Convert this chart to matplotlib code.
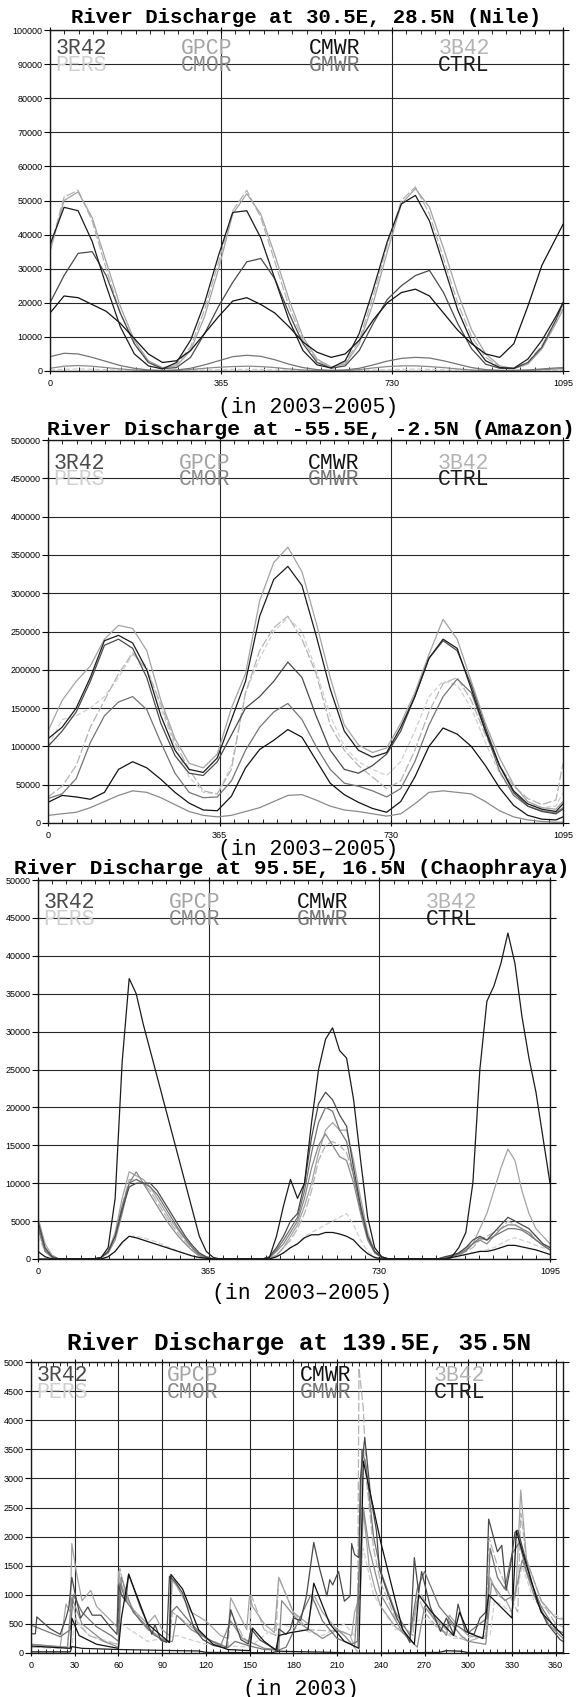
import numpy as np
import matplotlib
matplotlib.use("Agg")
import matplotlib.pyplot as plt
from matplotlib.ticker import MultipleLocator, FixedLocator

W, H = 580, 1697
fig = plt.figure(figsize=(W / 100, H / 100), dpi=100)

# ---- legend / styles -------------------------------------------------------
row1 = ["3R42", "GPCP", "CMWR", "3B42"]
row2 = ["PERS", "CMOR", "GMWR", "CTRL"]
colors = {"3R42": "#4a4a4a", "PERS": "#cfcfcf", "GPCP": "#a3a3a3", "CMOR": "#8a8a8a",
          "CMWR": "#121212", "GMWR": "#747474", "3B42": "#b3b3b3", "CTRL": "#1c1c1c"}
dashes = {"3B42": (7, 2), "PERS": (4, 2)}
draw_order = ["PERS", "3B42", "GPCP", "CMOR", "GMWR", "3R42", "CMWR", "CTRL"]

# ---- panel 1: Nile, 2003-2005 (values in 1000 m3/s) ------------------------
nile_days = list(range(0, 1081, 30)) + [1095]
nile = {
    "CTRL": [37, 48, 47, 38, 25, 13, 5, 1.5, 0.6, 2.5, 9, 20, 34, 46.5, 47, 39, 27, 15, 6, 1.8,
             0.9, 3, 11, 24, 38, 49, 51.5, 44, 31, 18, 8.5, 3, 1, 0.8, 3.5, 9, 16, 20],
    "GPCP": [35, 50, 52.5, 45, 32, 19, 9, 3, 1, 1.5, 6, 16, 30, 46, 52, 46, 34, 21, 10, 3.5,
             1.2, 2, 8, 20, 35, 49, 53.5, 48, 36, 23, 12, 5, 1.5, 0.7, 2, 6.5, 14, 18],
    "3B42": [36, 51, 53, 44, 30, 17, 8, 2.5, 0.8, 2, 7, 18, 32, 47, 53, 45, 32, 19, 9, 3,
             1, 2.5, 9, 22, 37, 50, 54, 46, 33, 20, 10, 4, 1.2, 0.8, 2.5, 7.5, 15, 19],
    "3R42": [20, 28, 34.5, 35, 28, 17, 8, 2.5, 0.7, 1, 4, 11, 19, 26, 32, 33, 27, 17, 8, 2.5,
             0.8, 1.5, 6, 14, 21, 25, 28, 29.5, 23, 14, 6.5, 2, 0.8, 0.7, 2.5, 7, 15, 20],
    "CMWR": [17, 22, 21.5, 19.5, 17.5, 14, 9.5, 5, 2.5, 3, 6, 11, 16, 20.5, 21.5, 19.5, 17, 13, 8.5, 5.5,
             4, 5, 9, 15, 20, 23, 24, 22, 17, 12, 8, 5, 4, 8, 19, 31, 39, 43],
    "GMWR": [4.2, 5.2, 5, 4, 2.8, 1.6, 0.8, 0.3, 0.15, 0.3, 0.8, 1.8, 3, 4.2, 4.6, 4.3, 3.3, 2, 1, 0.4,
             0.2, 0.3, 0.8, 1.8, 2.9, 3.7, 4, 3.8, 3, 2, 1, 0.4, 0.2, 0.2, 0.3, 0.6, 0.9, 1],
    "CMOR": [0.8, 1.4, 1.6, 1.4, 1, 0.6, 0.3, 0.15, 0.1, 0.15, 0.4, 0.8, 1.1, 1.3, 1.4, 1.3, 1, 0.6, 0.3, 0.15,
             0.1, 0.15, 0.4, 0.9, 1.3, 1.5, 1.5, 1.3, 1, 0.6, 0.3, 0.15, 0.1, 0.1, 0.2, 0.4, 0.6, 0.7],
    "PERS": [0.3, 0.5, 0.6, 0.5, 0.4, 0.3, 0.2, 0.1, 0.05, 0.1, 0.2, 0.3, 0.4, 0.5, 0.5, 0.45, 0.35, 0.25, 0.15, 0.1,
             0.05, 0.1, 0.2, 0.3, 0.4, 0.5, 0.55, 0.5, 0.4, 0.3, 0.2, 0.1, 0.05, 0.05, 0.1, 0.15, 0.2, 0.25],
}

# ---- panel 2: Amazon, 2003-2005 (1000 m3/s) --------------------------------
amazon_days = list(range(0, 1081, 30)) + [1095]
amazon = {
    "GPCP": [120, 160, 185, 205, 240, 258, 254, 225, 160, 110, 78, 72, 90, 150, 195, 290, 340, 360, 328, 262,
             190, 128, 102, 92, 98, 130, 170, 220, 266, 240, 185, 130, 85, 50, 28, 20, 18, 28],
    "CTRL": [110, 125, 150, 190, 238, 245, 235, 200, 140, 95, 70, 66, 85, 135, 185, 270, 318, 335, 310, 245,
             175, 120, 95, 86, 92, 125, 165, 215, 240, 228, 175, 120, 75, 42, 25, 18, 15, 25],
    "3R42": [100, 120, 145, 185, 232, 240, 228, 190, 130, 88, 65, 62, 80, 115, 150, 165, 185, 210, 190, 140,
             95, 70, 65, 75, 90, 120, 165, 215, 238, 225, 180, 125, 75, 40, 22, 15, 12, 18],
    "3B42": [34, 48, 75, 125, 160, 195, 222, 200, 155, 105, 70, 42, 38, 70, 170, 225, 255, 270, 240, 195,
             128, 95, 75, 60, 45, 55, 95, 145, 182, 190, 160, 115, 75, 48, 32, 24, 30, 78],
    "GMWR": [32, 38, 58, 105, 140, 158, 165, 148, 105, 65, 40, 33, 34, 55, 95, 125, 145, 156, 135, 100,
             70, 52, 48, 42, 34, 45, 80, 128, 165, 188, 170, 120, 68, 36, 22, 16, 13, 20],
    "PERS": [100, 135, 140, 150, 165, 190, 220, 205, 150, 100, 60, 40, 38, 75, 170, 215, 250, 268, 250, 200,
             140, 100, 80, 70, 62, 80, 120, 165, 185, 180, 150, 105, 65, 38, 25, 20, 22, 40],
    "CMWR": [27, 36, 34, 31, 40, 70, 80, 72, 57, 40, 26, 17, 16, 35, 72, 96, 108, 122, 112, 82,
             52, 37, 27, 19, 14, 28, 60, 100, 124, 116, 100, 75, 46, 23, 10, 5, 4, 8],
    "CMOR": [10, 12, 14, 20, 28, 36, 42, 40, 33, 24, 15, 10, 8, 10, 15, 20, 28, 36, 37, 30,
             22, 17, 15, 12, 9, 12, 25, 40, 42, 40, 38, 28, 16, 8, 4, 2, 1, 1],
}

# ---- panel 3: Chaophraya, 2003-2005 (1000 m3/s), every 15 days -------------
chao_days = list(range(0, 1096, 15))
chao = {
    "CTRL": [0, 0, 0, 0, 0, 0, 0, 0,
             0, 0.2, 1.5, 8, 26, 37, 35, 31, 27.5, 24, 20.5, 17, 13.5, 10, 6.5, 3, 1, 0.2, 0,
             0, 0, 0, 0, 0, 0, 0.2, 3, 7, 10.5, 8, 10, 18, 25, 29, 30.5, 27.5, 26.5, 21, 13, 5.5, 1.5, 0.3,
             0, 0, 0, 0, 0, 0, 0, 0, 0, 0.3, 1.5, 3.5, 10, 25, 34, 36, 39, 43, 39, 32, 26.5, 22, 16, 10],
    "3R42": [5, 1.5, 0.3, 0, 0, 0, 0, 0,
             0, 0.2, 1, 3, 6.5, 9.5, 10, 10, 10, 9, 7.5, 6, 4.5, 3, 1.8, 0.8, 0.3, 0, 0,
             0, 0, 0, 0, 0, 0, 0.3, 1.5, 3, 5, 6, 10, 16, 20.5, 22, 21, 19, 17.5, 12, 7, 3, 1, 0.2,
             0, 0, 0, 0, 0, 0, 0, 0, 0.3, 0.5, 0.8, 1.5, 2.5, 3, 2.5, 3.5, 4.5, 5.5, 5, 4.5, 4, 3, 2, 1.5],
    "CMOR": [4, 1, 0.2, 0, 0, 0, 0, 0,
             0, 0.2, 0.8, 2.5, 6, 10, 11.5, 10, 8.5, 7, 5.5, 4.2, 3, 2, 1.1, 0.4, 0.1, 0, 0,
             0, 0, 0, 0, 0, 0, 0.2, 1, 2, 3.5, 5, 8, 12, 15, 16.5, 15, 13.5, 13, 10, 6, 2.5, 0.8, 0.2,
             0, 0, 0, 0, 0, 0, 0, 0, 0.2, 0.4, 0.6, 1, 2, 2.5, 2, 3, 4, 4.5, 4.5, 4, 3.5, 2.5, 1.8, 1.2],
    "GPCP": [5.5, 2, 0.5, 0, 0, 0, 0, 0,
             0, 0.2, 1, 3.5, 8, 11.5, 11, 10.5, 9.5, 8, 6.5, 5, 3.8, 2.6, 1.5, 0.6, 0.2, 0, 0,
             0, 0, 0, 0, 0, 0, 0.1, 0.5, 1.5, 3, 4.5, 7, 10, 14, 17, 18, 17, 17, 13, 8, 3.5, 1, 0.3,
             0, 0, 0, 0, 0, 0, 0, 0, 0.2, 0.5, 0.8, 1.5, 2, 4, 6, 9, 12, 14.5, 13, 9, 6, 4, 3, 2],
    "3B42": [5, 1.5, 0.4, 0, 0, 0, 0, 0,
             0, 0.2, 0.8, 3, 7, 10.5, 10.5, 10, 9, 7.5, 6, 4.6, 3.4, 2.3, 1.3, 0.5, 0.1, 0, 0,
             0, 0, 0, 0, 0, 0, 0.1, 0.5, 1.5, 2.5, 4, 6, 9, 13, 15, 15.5, 15, 14, 11, 7, 3, 1, 0.2,
             0, 0, 0, 0, 0, 0, 0, 0, 0.1, 0.3, 0.5, 1, 1.5, 2.5, 3, 3.5, 4, 5, 4.5, 4, 3.5, 3, 2, 1.5],
    "CMWR": [1, 0.3, 0, 0, 0, 0, 0, 0,
             0, 0, 0.3, 1, 2.2, 3, 2.8, 2.5, 2.2, 1.9, 1.6, 1.3, 1, 0.7, 0.4, 0.2, 0.1, 0, 0,
             0, 0, 0, 0, 0, 0, 0, 0.3, 0.8, 1.5, 2, 2.8, 3.2, 3.2, 3.5, 3.5, 3.3, 3, 2.5, 1.5, 0.7, 0.2, 0,
             0, 0, 0, 0, 0, 0, 0, 0, 0, 0.2, 0.4, 0.6, 0.8, 1, 1, 1.2, 1.5, 1.8, 1.8, 1.6, 1.4, 1.2, 0.9, 0.6],
    "PERS": [3, 1, 0.2, 0, 0, 0, 0, 0,
             0, 0, 0.3, 1, 2, 3, 3, 2.8, 2.5, 2.2, 1.8, 1.4, 1, 0.7, 0.4, 0.2, 0, 0, 0,
             0, 0, 0, 0, 0, 0, 0, 0.3, 0.8, 1.5, 2, 3, 3.5, 4, 4.5, 5, 5.5, 6, 4.5, 2.5, 1, 0.3, 0,
             0, 0, 0, 0, 0, 0, 0, 0, 0, 0.2, 0.3, 0.5, 0.8, 1, 1.2, 1.5, 2, 2.5, 2.8, 2.5, 2.2, 1.8, 1.5, 1.2],
    "GMWR": [4.5, 1.2, 0.3, 0, 0, 0, 0, 0,
             0, 0.2, 1, 3, 7, 10, 10.5, 10, 9.5, 8.5, 7, 5.5, 4, 2.7, 1.5, 0.6, 0.2, 0, 0,
             0, 0, 0, 0, 0, 0, 0.2, 1.2, 2.5, 4, 5.5, 9, 14, 18, 20, 19.5, 17, 15.5, 11, 6.5, 2.8, 0.9, 0.2,
             0, 0, 0, 0, 0, 0, 0, 0, 0.2, 0.4, 0.7, 1.2, 2, 2.8, 2.5, 3, 3.5, 4, 4, 3.8, 3.2, 2.5, 1.8, 1.2],
}

# ---- panel 4: 139.5E 35.5N, 2003 (m3/s), (day, value) knots per run --------
tokyo_3r42_d = [0, 3, 4, 13, 20, 24, 26, 28, 30, 34, 39, 42, 48, 54, 59, 60, 62, 65, 67, 75,
                83, 85, 89, 93, 95, 99, 104, 112, 118, 125, 134, 137, 144, 149, 151, 157, 169, 170, 175, 178,
                180, 185, 189, 194, 198, 203, 205, 207, 211, 215, 219, 220, 222, 225, 226, 229, 233, 237, 239, 244,
                251, 260, 263, 266, 268, 274, 281, 285, 290, 293, 298, 304, 308, 312, 314, 320, 323, 326, 329, 332,
                334, 340, 347, 354, 363, 365]
tokyo_3r42_v = [330, 330, 620, 420, 320, 600, 790, 1300, 1050, 600, 790, 650, 650, 460, 320, 1170, 1000, 890, 1360, 790,
                320, 490, 230, 180, 1320, 1220, 1030, 415, 230, 130, 85, 745, 230, 155, 415, 225, 40, 415, 320, 415,
                600, 560, 980, 1900, 1450, 980, 1260, 1170, 1400, 890, 980, 1880, 1690, 1640, 3000, 3700, 2700, 2100, 1450, 1075,
                600, 180, 1640, 1030, 1400, 790, 370, 600, 320, 840, 370, 320, 600, 700, 2300, 1740, 1850, 1075, 1500, 2070,
                2110, 1550, 890, 510, 230, 200]
tokyo_ctrl_d = [0, 27, 28, 35, 60, 90, 115, 120, 165, 170, 200, 220, 226, 240, 280, 285, 295, 300, 365]
tokyo_ctrl_v = [20, 20, 110, 80, 60, 45, 35, 10, 5, 30, 15, 0, 0, 0, 10, 40, 30, 5, 5]
tokyo_gpcp_d = [0, 20, 24, 27, 28, 31, 35, 41, 45, 55, 59, 60, 63, 70, 80, 85, 90, 95, 97, 100,
                110, 120, 130, 135, 137, 142, 148, 150, 152, 160, 167, 170, 175, 180, 190, 194, 200, 210, 215, 220,
                222, 226, 228, 232, 236, 240, 250, 260, 265, 268, 275, 285, 287, 292, 300, 312, 315, 320, 326, 330,
                333, 336, 340, 350, 360, 365]
tokyo_gpcp_v = [150, 100, 840, 700, 1880, 1400, 900, 1075, 800, 550, 450, 1400, 1100, 750, 500, 650, 400, 300, 1250, 1150,
                700, 550, 300, 250, 950, 700, 400, 1000, 800, 500, 350, 1300, 1000, 700, 500, 1000, 700, 400, 350, 300,
                700, 1000, 2450, 1500, 1100, 800, 450, 250, 900, 1000, 650, 400, 650, 500, 300, 250, 1300, 1000, 900, 700,
                1200, 2800, 1600, 900, 600, 580]
tokyo_3b42_d = [0, 25, 28, 32, 40, 50, 60, 61, 66, 80, 95, 97, 105, 120, 135, 137, 145, 150, 151, 160,
                168, 170, 180, 190, 205, 210, 215, 219, 222, 224, 225, 228, 230, 235, 240, 250, 262, 265, 270, 280,
                290, 300, 312, 314, 320, 330, 334, 336, 340, 350, 360, 365]
tokyo_3b42_v = [100, 80, 900, 500, 300, 200, 150, 1450, 900, 400, 200, 700, 550, 250, 100, 700, 300, 150, 1000, 400,
                300, 1300, 700, 400, 380, 400, 350, 300, 100, 20, 4900, 4200, 3000, 1800, 1200, 600, 300, 1000, 700, 400,
                300, 200, 300, 2000, 1500, 900, 700, 2400, 1600, 900, 500, 450]
tokyo_gmwr_d = [0, 20, 27, 29, 35, 45, 55, 60, 61, 65, 75, 85, 95, 96, 100, 110, 120, 135, 140, 150,
                160, 170, 175, 192, 195, 200, 210, 220, 224, 227, 230, 235, 240, 250, 260, 265, 270, 280, 290, 300,
                313, 315, 320, 325, 330, 335, 340, 350, 360, 365]
tokyo_gmwr_v = [480, 280, 400, 1000, 700, 450, 300, 200, 1200, 900, 550, 300, 180, 700, 800, 500, 250, 90, 200, 120,
                60, 50, 100, 1000, 850, 550, 250, 150, 200, 3500, 3200, 2000, 1400, 700, 300, 1100, 1400, 800, 500, 350,
                600, 1800, 1300, 1100, 1700, 1900, 1400, 800, 400, 350]
tokyo_cmor_d = [0, 25, 28, 35, 50, 60, 62, 70, 90, 97, 100, 110, 130, 137, 145, 160, 170, 172, 185, 200,
                210, 215, 222, 228, 232, 240, 255, 265, 270, 285, 287, 295, 300, 312, 316, 325, 332, 337, 345, 355, 365]
tokyo_cmor_v = [150, 100, 950, 500, 200, 100, 1300, 700, 200, 200, 650, 400, 120, 550, 250, 80, 60, 900, 500, 250,
                400, 300, 100, 2500, 1800, 1000, 350, 100, 800, 300, 550, 300, 200, 150, 1200, 900, 1000, 1600, 1000, 500, 250]
tokyo_cmwr_d = [0, 27, 28, 33, 45, 60, 62, 67, 80, 95, 96, 104, 115, 125, 135, 150, 152, 160, 168, 170,
                178, 190, 194, 205, 215, 225, 228, 240, 255, 263, 266, 275, 290, 294, 300, 310, 314, 322, 330, 333,
                340, 350, 365]
tokyo_cmwr_v = [120, 80, 600, 300, 150, 80, 600, 1350, 500, 180, 1350, 1100, 400, 150, 60, 40, 430, 200, 50, 300,
                350, 400, 1200, 500, 200, 80, 3300, 1900, 400, 150, 1000, 700, 300, 700, 350, 250, 1000, 800, 600, 2100,
                1500, 700, 300]
tokyo_pers_d = [0, 28, 30, 40, 60, 62, 80, 100, 120, 150, 170, 200, 215, 222, 228, 235, 250, 270, 290, 315,
                318, 330, 337, 345, 360, 365]
tokyo_pers_v = [100, 100, 600, 300, 150, 500, 200, 300, 150, 100, 500, 300, 500, 300, 1800, 1000, 400, 600, 250, 300,
                900, 700, 1500, 900, 650, 600]
tokyo = {"3R42": (tokyo_3r42_d, tokyo_3r42_v), "CTRL": (tokyo_ctrl_d, tokyo_ctrl_v),
         "GPCP": (tokyo_gpcp_d, tokyo_gpcp_v), "3B42": (tokyo_3b42_d, tokyo_3b42_v),
         "GMWR": (tokyo_gmwr_d, tokyo_gmwr_v), "CMOR": (tokyo_cmor_d, tokyo_cmor_v),
         "CMWR": (tokyo_cmwr_d, tokyo_cmwr_v), "PERS": (tokyo_pers_d, tokyo_pers_v)}

MONO = "Liberation Mono"
SANS = "Liberation Sans"
LEG_X = [0.01, 0.255, 0.505, 0.757]


def add_panel(box, xmax, ymax, ystep, xmajor, xminor):
    left, top, right, bottom = box
    hpx = bottom - top
    ax = fig.add_axes([left / W, 1 - bottom / H, (right - left) / W, hpx / H])
    ax.set_xlim(0, xmax); ax.set_ylim(0, ymax)
    ax.yaxis.set_major_locator(MultipleLocator(ystep))
    ax.xaxis.set_major_locator(FixedLocator(xmajor))
    ax.xaxis.set_minor_locator(MultipleLocator(xminor))
    ax.grid(which="major", color="#262626", lw=0.8)
    ax.set_axisbelow(True)
    ax.tick_params(axis="y", which="major", direction="out", length=4, width=0.8,
                   right=True, labelsize=6.5, pad=1.5)
    ax.tick_params(axis="x", which="major", direction="inout", length=5, width=0.8,
                   top=True, labelsize=6.5, pad=3)
    ax.tick_params(axis="x", which="minor", direction="in", length=3, width=0.6, top=True)
    for lab in ax.get_xticklabels() + ax.get_yticklabels():
        lab.set_family(SANS)
    ax.yaxis.set_major_formatter(plt.FuncFormatter(lambda v, p: f"{int(round(v))}"))
    for s in ax.spines.values():
        s.set_linewidth(1.0); s.set_color("#1a1a1a")
    # legend written as coloured names, GrADS style; second row sits on the 2nd gridline
    y2 = 1 - ystep / ymax - 0.004
    y1 = y2 + 16.5 / hpx
    for x, name in zip(LEG_X, row1):
        ax.text(x, y1, name, transform=ax.transAxes, family=MONO, size=15.5,
                color=colors[name], va="center", ha="left")
    for x, name in zip(LEG_X, row2):
        ax.text(x, y2, name, transform=ax.transAxes, family=MONO, size=15.5,
                color=colors[name], va="center", ha="left")
    return ax


def draw(ax, x, y, name, scale=1.0):
    ln, = ax.plot(x, np.asarray(y) * scale, color=colors[name], lw=0.9)
    if name in dashes:
        ln.set_dashes(dashes[name])


def title(x, y, s, size):
    fig.text(x / W, 1 - y / H, s, family=MONO, weight="bold", size=size,
             ha="center", va="baseline")


def xlab(x, y, s):
    fig.text(x / W, 1 - y / H, s, family=MONO, size=15.5, ha="center", va="center")


yr3 = [0, 365, 730, 1095]

ax1 = add_panel((50, 30, 563, 371), 1095, 100000, 10000, yr3, 365 / 12)
for n in draw_order:
    draw(ax1, nile_days, nile[n], n, 1000)
title(306, 23, "River Discharge at 30.5E, 28.5N (Nile)", 14.9)
xlab(308, 408, "(in 2003\u20132005)")

ax2 = add_panel((48, 440, 563, 823), 1095, 500000, 50000, yr3, 365 / 12)
for n in draw_order:
    draw(ax2, amazon_days, amazon[n], n, 1000)
title(311, 435, "River Discharge at -55.5E, -2.5N (Amazon)", 15.4)
xlab(308, 849, "(in 2003\u20132005)")

ax3 = add_panel((38, 880, 550, 1259), 1095, 50000, 5000, yr3, 365 / 12)
for n in draw_order:
    draw(ax3, chao_days, chao[n], n, 1000)
title(292, 874, "River Discharge at 95.5E, 16.5N (Chaophraya)", 15.2)
xlab(302, 1293, "(in 2003\u20132005)")

ax4 = add_panel((31, 1362, 563, 1653), 365, 5000, 500, list(range(0, 361, 30)), 5)
for n in draw_order:
    d, v = tokyo[n]
    draw(ax4, d, v, n)
title(299, 1350, "River Discharge at 139.5E, 35.5N", 17.5)
xlab(301, 1689, "(in 2003)")

fig.savefig("out.png", dpi=100, facecolor="white")
